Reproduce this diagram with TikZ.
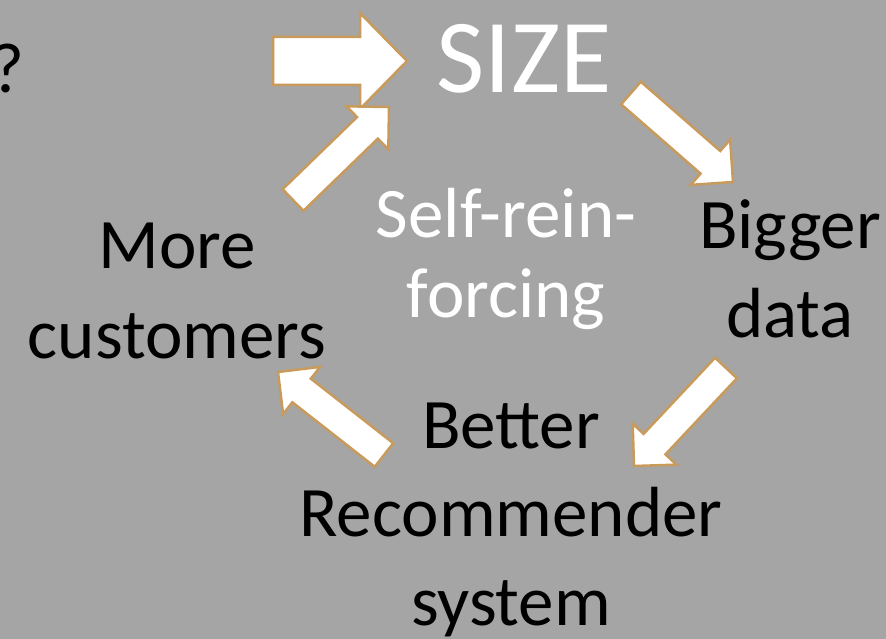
\documentclass[tikz,border=0pt]{standalone}
\usepackage{fontspec}
\setmainfont{Carlito}
\usetikzlibrary{calc}
\definecolor{slidegray}{HTML}{A5A5A5}
\definecolor{arrowrim}{HTML}{C89B5C}
\newcommand{\blockarrow}[5]{%
  \coordinate (h) at ($(#2)!#5!(#1)$);
  \draw[blockarr] ($(#1)!#3!-90:(#2)$) -- ($(h)!#3!-90:(#2)$) -- ($(h)!#4!-90:(#2)$) -- (#2)
    -- ($(h)!#4!90:(#2)$) -- ($(h)!#3!90:(#2)$) -- ($(#1)!#3!90:(#2)$) -- cycle;}

\begin{document}
\begin{tikzpicture}[x=1pt,y=-1pt,
    blockarr/.style={draw=arrowrim,fill=white,line width=2.5pt,line join=miter},
    lbl/.style={align=center,inner sep=0pt,anchor=base}]
   \useasboundingbox[fill=slidegray] (0,0) rectangle (886,639);

   \node[lbl,anchor=base east,font=\fontsize{71}{86}\selectfont] (ask) at (25,93) {?};
   \node[lbl,white,font=\fontsize{105}{120}\selectfont] (size) at (524,93) {SIZE};
   \node[lbl,white,font=\fontsize{71}{80}\selectfont] (loop) at (506,317) {Self-rein-\\forcing};
   \node[lbl,font=\fontsize{71}{90}\selectfont] (cust) at (177,358) {More\\customers};
   \node[lbl,font=\fontsize{71}{89}\selectfont] (data) at (790,337) {Bigger\\data};
   \node[lbl,font=\fontsize{71}{88.5}\selectfont] (recsys) at (511,625) {Better\\Recommender\\system};

   \coordinate (A1s) at (273,61);  \coordinate (A1e) at (407,61);
   \coordinate (A2s) at (293,200); \coordinate (A2e) at (389,107);
   \coordinate (A3s) at (631,93);  \coordinate (A3e) at (733,182);
   \coordinate (A4s) at (726,368); \coordinate (A4e) at (634,466);
   \coordinate (A5s) at (384,455); \coordinate (A5e) at (278,372);

   \blockarrow{A1s}{A1e}{24pt}{48pt}{47pt}
   \blockarrow{A2s}{A2e}{15pt}{30pt}{30pt}
   \blockarrow{A3s}{A3e}{15pt}{30pt}{30pt}
   \blockarrow{A4s}{A4e}{15pt}{30pt}{30pt}
   \blockarrow{A5s}{A5e}{15pt}{30pt}{30pt}
\end{tikzpicture}
\end{document}
